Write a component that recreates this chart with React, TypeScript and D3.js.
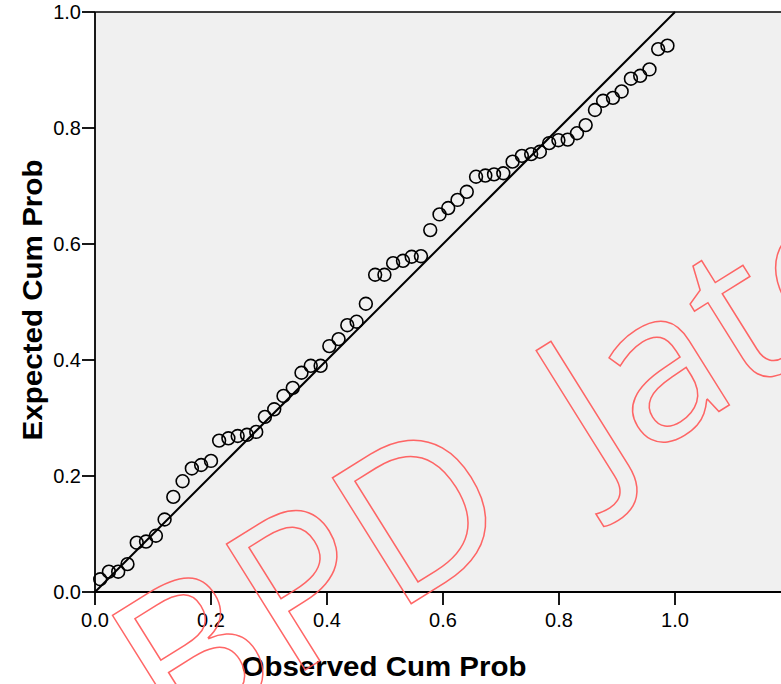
import React from "react";
import * as d3 from "d3";

const observed = [0.009,0.024,0.040,0.056,0.072,0.088,0.105,0.120,0.135,0.151,0.167,0.183,0.200,0.214,0.230,0.246,0.262,0.278,0.293,0.309,0.325,0.341,0.356,0.372,0.389,0.404,0.420,0.435,0.451,0.467,0.483,0.499,0.514,0.531,0.546,0.562,0.578,0.594,0.609,0.625,0.641,0.657,0.673,0.688,0.704,0.720,0.736,0.752,0.767,0.783,0.799,0.815,0.831,0.846,0.862,0.876,0.893,0.908,0.924,0.940,0.956,0.971,0.987];
const expected = [0.022,0.035,0.035,0.048,0.085,0.087,0.097,0.125,0.164,0.191,0.213,0.219,0.226,0.261,0.265,0.269,0.271,0.276,0.302,0.315,0.338,0.352,0.378,0.390,0.390,0.424,0.436,0.460,0.466,0.497,0.547,0.547,0.567,0.571,0.578,0.579,0.624,0.651,0.662,0.676,0.690,0.716,0.718,0.720,0.722,0.742,0.752,0.755,0.759,0.774,0.779,0.780,0.791,0.805,0.831,0.847,0.852,0.863,0.885,0.890,0.901,0.936,0.942];
const xTicks = [0, 0.2, 0.4, 0.6, 0.8, 1.0];
const yTicks = [0, 0.2, 0.4, 0.6, 0.8, 1.0];
const diagonal = [0, 1];
const xTitle = "Observed Cum Prob";
const yTitle = "Expected Cum Prob";
const watermarkA = "BPD ";
const watermarkB = "Jateng";

const W = 781, H = 684;
const left = 95, top = 12, bottom = 592;

export default function App() {
  const x = d3.scaleLinear().domain([0, 1]).range([left, left + 580]);
  const y = d3.scaleLinear().domain([0, 1]).range([bottom, top]);
  const line = d3.line<number>().x(d => x(d)).y(d => y(d));
  const fmt = d3.format(".1f");
  const font = "'Liberation Sans', Arial, sans-serif";
  return (
    <svg width={W} height={H} style={{ position: "absolute", left: 0, top: 0, background: "#fff" }}>
      <rect x={left} y={top} width={W - left + 10} height={bottom - top} fill="#f0f0f0" />
      <line x1={left} x2={W + 5} y1={top} y2={top} stroke="#000" strokeWidth={1.6} />
      <path d={line(diagonal) || ""} stroke="#000" strokeWidth={2} fill="none" />
      {observed.map((o, i) => (
        <circle key={i} cx={x(o)} cy={y(expected[i])} r={6.4} fill="none" stroke="#000" strokeWidth={1.6} />
      ))}
      <line x1={left} x2={left} y1={top} y2={bottom} stroke="#000" strokeWidth={1.8} />
      <line x1={left} x2={W + 5} y1={bottom} y2={bottom} stroke="#000" strokeWidth={1.8} />
      {yTicks.map(t => (
        <g key={"y" + t}>
          <line x1={left - 13} x2={left} y1={y(t)} y2={y(t)} stroke="#000" strokeWidth={1.8} />
          <text x={left - 14} y={y(t) + 7} textAnchor="end" fontFamily={font} fontSize={20}>{fmt(t)}</text>
        </g>
      ))}
      {xTicks.map(t => (
        <g key={"x" + t}>
          <line x1={x(t)} x2={x(t)} y1={bottom} y2={bottom + 13} stroke="#000" strokeWidth={1.8} />
          <text x={x(t)} y={627} textAnchor="middle" fontFamily={font} fontSize={20}>{fmt(t)}</text>
        </g>
      ))}
      <text x={384} y={676} textAnchor="middle" fontFamily={font} fontWeight="bold" fontSize={28}
        textLength={285} lengthAdjust="spacingAndGlyphs">{xTitle}</text>
      <text transform="translate(42,300) rotate(-90)" textAnchor="middle" fontFamily={font} fontWeight="bold" fontSize={28}
        textLength={281} lengthAdjust="spacingAndGlyphs">{yTitle}</text>
      <text transform="translate(174,752) rotate(-32)" fontFamily="'Open Sans', 'Noto Sans', sans-serif" fontSize={208}
        fill="none" stroke="#f55" strokeWidth={1.5} strokeOpacity={0.9}>
        <tspan>{watermarkA}</tspan><tspan dx={36}>{watermarkB}</tspan>
      </text>
    </svg>
  );
}
